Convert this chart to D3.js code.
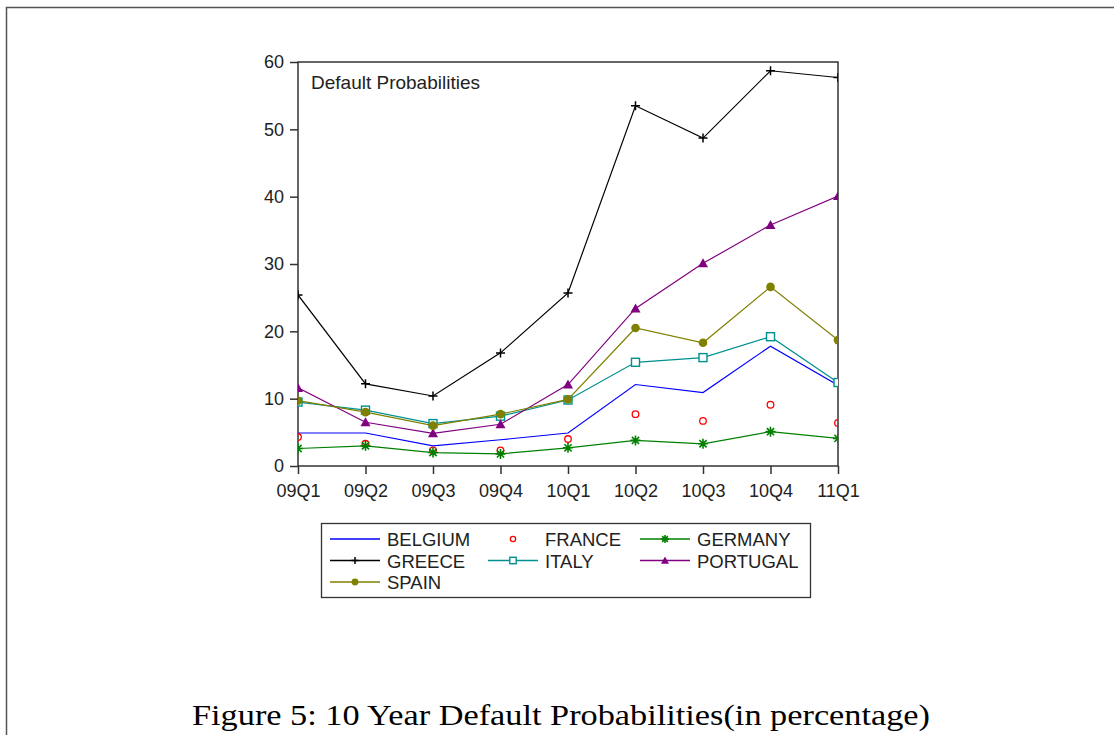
<!DOCTYPE html>
<html>
<head>
<meta charset="utf-8">
<script src="https://cdn.jsdelivr.net/npm/d3@7"></script>
<style>
  html, body { margin: 0; padding: 0; background: #fff; }
  svg { display: block; }
</style>
</head>
<body>
<svg id="chart" width="1114" height="735"></svg>
<script>
// ---- data ----
const quarters = ["09Q1","09Q2","09Q3","09Q4","10Q1","10Q2","10Q3","10Q4","11Q1"];
const yTicks = [0, 10, 20, 30, 40, 50, 60];
const belgium  = [4.9, 4.9, 3.0, 3.9, 4.9, 12.1, 10.9, 17.8, 12.0];
const france   = [4.3, 3.3, 2.3, 2.3, 4.0, 7.7, 6.7, 9.1, 6.4];
const germany  = [2.6, 3.0, 2.0, 1.8, 2.7, 3.8, 3.3, 5.1, 4.1];
const greece   = [25.4, 12.2, 10.4, 16.8, 25.7, 53.5, 48.7, 58.7, 57.7];
const italy    = [9.5, 8.3, 6.3, 7.4, 9.8, 15.4, 16.1, 19.2, 12.4];
const portugal = [11.6, 6.5, 4.85, 6.2, 12.1, 23.4, 30.1, 35.8, 40.1];
const spain    = [9.7, 8.0, 6.0, 7.7, 9.9, 20.5, 18.3, 26.6, 18.7];

const series = [
  {name: "BELGIUM",  values: belgium,  color: "#0000ff", line: true,  marker: "none"},
  {name: "FRANCE",   values: france,   color: "#ff0000", line: false, marker: "circleOpen"},
  {name: "GERMANY",  values: germany,  color: "#008000", line: true,  marker: "star"},
  {name: "GREECE",   values: greece,   color: "#000000", line: true,  marker: "plus"},
  {name: "ITALY",    values: italy,    color: "#009090", line: true,  marker: "squareOpen"},
  {name: "PORTUGAL", values: portugal, color: "#800080", line: true,  marker: "triangle"},
  {name: "SPAIN",    values: spain,    color: "#808000", line: true,  marker: "dot"}
];

const svg = d3.select("#chart");
const font = "'Liberation Sans', Arial, sans-serif";

// outer frame (top and left only visible)
svg.append("path").attr("d", "M6.5,735 L6.5,7.5 L1114,7.5")
  .attr("fill", "none").attr("stroke", "#555").attr("stroke-width", 1.5);

const L = 298, R = 838, T = 62, B = 466;
const x = d3.scalePoint().domain(quarters).range([L, R]);
const y = d3.scaleLinear().domain([0, 60]).range([B, T]);

// clip
svg.append("defs").append("clipPath").attr("id", "plotclip")
  .append("rect").attr("x", L).attr("y", T - 2).attr("width", R - L).attr("height", B - T + 2);

// axes
const yAxis = d3.axisLeft(y).tickValues(yTicks).tickSize(8).tickPadding(6).tickFormat(d3.format("d"));
const gy = svg.append("g").attr("transform", `translate(${L},0)`).call(yAxis);
const xAxis = d3.axisBottom(x).tickSize(8).tickPadding(10);
const gx = svg.append("g").attr("transform", `translate(0,${B})`).call(xAxis);
[gx, gy].forEach(g => {
  g.select(".domain").remove();
  g.selectAll("line").attr("stroke", "#333").attr("stroke-width", 1.5);
  g.selectAll("text").attr("fill", "#222").style("font-family", font).style("font-size", "18px");
});

// plot frame
svg.append("rect").attr("x", L).attr("y", T).attr("width", R - L).attr("height", B - T)
  .attr("fill", "none").attr("stroke", "#333").attr("stroke-width", 1.5);

svg.append("text").attr("x", 311).attr("y", 89)
  .style("font-family", font).style("font-size", "19px").attr("fill", "#222")
  .text("Default Probabilities");

// markers
function drawMarker(g, type, cx, cy, color, scale) {
  const s = scale || 1;
  if (type === "circleOpen") {
    g.append("circle").attr("cx", cx).attr("cy", cy).attr("r", 3.3 * s)
      .attr("fill", "none").attr("stroke", color).attr("stroke-width", 1.3);
  } else if (type === "dot") {
    g.append("circle").attr("cx", cx).attr("cy", cy).attr("r", 4.3 * s).attr("fill", color);
  } else if (type === "squareOpen") {
    const h = 4 * s;
    g.append("rect").attr("x", cx - h).attr("y", cy - h).attr("width", 2 * h).attr("height", 2 * h)
      .attr("fill", "#fff").attr("stroke", color).attr("stroke-width", 1.4);
  } else if (type === "triangle") {
    const h = 5 * s;
    g.append("path").attr("d", `M${cx},${cy - h} L${cx + h},${cy + h * 0.8} L${cx - h},${cy + h * 0.8}Z`)
      .attr("fill", color);
  } else if (type === "plus") {
    const h = 4.5 * s;
    g.append("path").attr("d", `M${cx - h},${cy} L${cx + h},${cy} M${cx},${cy - h} L${cx},${cy + h}`)
      .attr("stroke", color).attr("stroke-width", 1.5);
  } else if (type === "star") {
    const h = 5 * s, d = h * 0.72;
    g.append("path").attr("d",
      `M${cx - h},${cy} L${cx + h},${cy} M${cx},${cy - h} L${cx},${cy + h} ` +
      `M${cx - d},${cy - d} L${cx + d},${cy + d} M${cx - d},${cy + d} L${cx + d},${cy - d}`)
      .attr("stroke", color).attr("stroke-width", 1.6);
  }
}

const plot = svg.append("g").attr("clip-path", "url(#plotclip)");
const lineGen = d3.line().x((d, i) => x(quarters[i])).y(d => y(d));
series.forEach(s => {
  const g = plot.append("g");
  if (s.line) {
    g.append("path").datum(s.values).attr("d", lineGen)
      .attr("fill", "none").attr("stroke", s.color).attr("stroke-width", 1.2);
  }
  s.values.forEach((v, i) => drawMarker(g, s.marker, x(quarters[i]), y(v), s.color));
});

// legend
const lg = svg.append("g");
lg.append("rect").attr("x", 321.5).attr("y", 523.5).attr("width", 489).attr("height", 74)
  .attr("fill", "#fff").attr("stroke", "#333").attr("stroke-width", 1.3);
const colX = [330, 488, 640];
const rowY = [539, 560.5, 582];
series.forEach((s, i) => {
  const cx0 = colX[i % 3], cy0 = rowY[Math.floor(i / 3)];
  if (s.line) {
    lg.append("line").attr("x1", cx0).attr("x2", cx0 + 50).attr("y1", cy0).attr("y2", cy0)
      .attr("stroke", s.color).attr("stroke-width", 1.3);
  }
  drawMarker(lg, s.marker, cx0 + 25, cy0, s.color, 0.8);
  lg.append("text").attr("x", cx0 + 57).attr("y", cy0 + 7)
    .style("font-family", font).style("font-size", "18.5px").attr("fill", "#222")
    .text(s.name);
});

// caption
svg.append("text").attr("x", 192).attr("y", 725)
  .style("font-family", "'Liberation Serif', 'DejaVu Serif', serif").style("font-size", "29px")
  .attr("fill", "#000")
  .attr("textLength", 738).attr("lengthAdjust", "spacingAndGlyphs")
  .text("Figure 5: 10 Year Default Probabilities(in percentage)");
</script>
</body>
</html>
